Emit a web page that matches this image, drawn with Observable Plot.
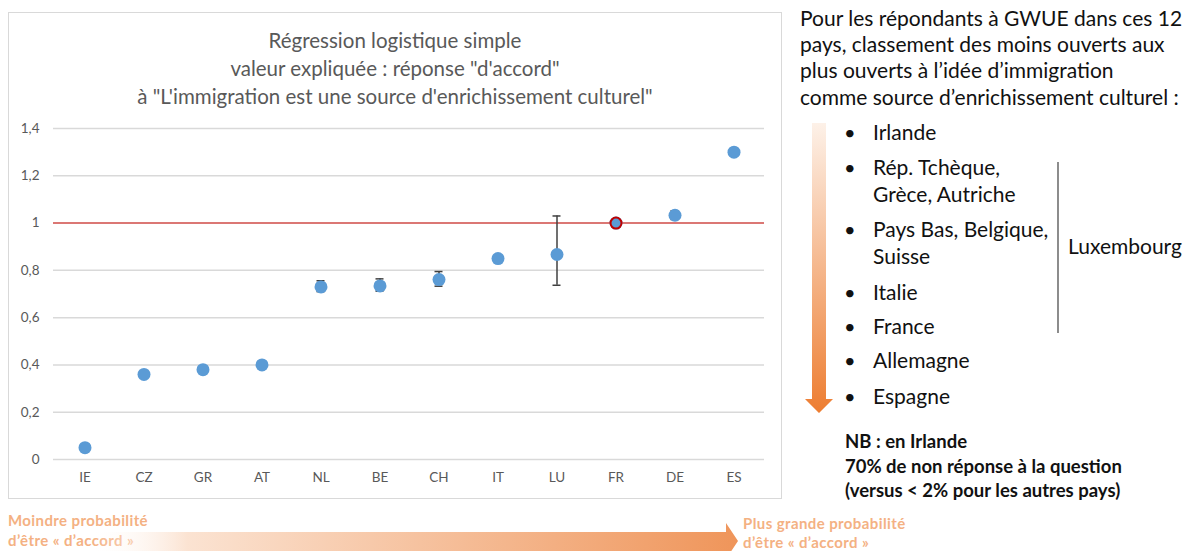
<!DOCTYPE html>
<html><head><meta charset="utf-8">
<script src="https://cdn.jsdelivr.net/npm/d3@7"></script>
<script src="https://cdn.jsdelivr.net/npm/@observablehq/plot@0.6"></script>
<style>
body{margin:0;background:#fff;width:1192px;height:551px;overflow:hidden;position:relative;font-family:Lato,"Open Sans",sans-serif}
.abs{position:absolute;white-space:nowrap}
</style></head><body>
<div class="abs" style="left:8px;top:12px;width:774px;height:487px;border:1.5px solid #d9d9d9;box-sizing:border-box"></div>
<div id="chart" class="abs" style="left:0;top:0"></div>
<div id="title" class="abs" style="left:8px;width:774px;top:26px;text-align:center;color:#595959;font-size:20.5px;line-height:28px"></div>
<div id="panel"></div>
<svg class="abs" style="left:0;top:0" width="1192" height="551" id="deco">
  <defs>
    <linearGradient id="gv" x1="0" y1="0" x2="0" y2="1">
      <stop offset="0" stop-color="#fdf1e8"/>
      <stop offset="1" stop-color="#ed7d31"/>
    </linearGradient>
    <linearGradient id="gh" x1="0" y1="0" x2="1" y2="0">
      <stop offset="0" stop-color="#ffffff" stop-opacity="0"/>
      <stop offset="0.15" stop-color="#fbe3d2"/>
      <stop offset="1" stop-color="#ef955a"/>
    </linearGradient>
  </defs>
  <path d="M812,123 H826 V399 H833 L819,413 L805,399 H812 Z" fill="url(#gv)"/>
  <path d="M90,532 H726 V523 L738,541 L726,559 V551 H90 Z" fill="url(#gh)"/>
  <line x1="1058" y1="162" x2="1058" y2="333" stroke="#404040" stroke-width="1.2"/>
</svg>
<script>
const countries = ["IE","CZ","GR","AT","NL","BE","CH","IT","LU","FR","DE","ES"];
const oddsRatio = [0.05,0.36,0.38,0.40,0.73,0.734,0.761,0.85,0.867,1.0,1.033,1.30];
const errLow  = [null,null,null,null,0.71,0.712,0.733,null,0.737,null,1.015,null];
const errHigh = [null,null,null,null,0.756,0.764,0.795,null,1.03,null,1.052,null];
const yTicks = [0,0.2,0.4,0.6,0.8,1,1.2,1.4];
const referenceValue = 1;
const referenceCountry = "FR";
const titleLines = ["Régression logistique simple","valeur expliquée : réponse \"d'accord\"","à \"L'immigration est une source d'enrichissement culturel\""];
const headingLines = ["Pour les répondants à GWUE dans ces 12","pays, classement des moins ouverts aux","plus ouverts à l’idée d’immigration","comme source d’enrichissement culturel :"];
const rankingItems = [["Irlande"],["Rép. Tchèque,","Grèce, Autriche"],["Pays Bas, Belgique,","Suisse"],["Italie"],["France"],["Allemagne"],["Espagne"]];
const bracketLabel = "Luxembourg";
const noteLines = ["NB : en Irlande","70% de non réponse à la question","(versus < 2% pour les autres pays)"];
const leftArrowLabel = ["Moindre probabilité","d’être « d’accord »"];
const rightArrowLabel = ["Plus grande probabilité","d’être « d’accord »"];

const rows = countries.map((c,i)=>({country:c, value:oddsRatio[i], lo:errLow[i], hi:errHigh[i]}));
const errRows = rows.filter(d=>d.lo!=null);

const chart = Plot.plot({
  width:790, height:500,
  marginTop:128, marginBottom:41, marginLeft:53, marginRight:26,
  style:{fontFamily:"Lato, sans-serif", fontSize:"13px", color:"#595959", background:"transparent"},
  x:{type:"band", domain:countries, padding:0, label:null},
  y:{domain:[0,1.4], label:null},
  marks:[
    Plot.gridY(yTicks,{stroke:"#d9d9d9", strokeOpacity:1, strokeWidth:1.5}),
    Plot.axisY(yTicks,{tickSize:0, tickPadding:14, tickFormat:d=>String(d).replace(".",","), label:null, fontSize:13.5}),
    Plot.axisX({tickSize:0, tickPadding:13, label:null, fontSize:13.5}),
    Plot.ruleY([referenceValue],{stroke:"#d9534f", strokeWidth:1.5}),
    Plot.ruleX(errRows,{x:"country", y1:"lo", y2:"hi", stroke:"#404040", strokeWidth:1.5}),
    Plot.tickY(errRows,{x:"country", y:"hi", stroke:"#404040", strokeWidth:1.5, insetLeft:25.5, insetRight:25.5}),
    Plot.tickY(errRows,{x:"country", y:"lo", stroke:"#404040", strokeWidth:1.5, insetLeft:25.5, insetRight:25.5}),
    Plot.dot(rows,{x:"country", y:"value", r:6.5, fill:"#5b9bd5"}),
    Plot.dot(rows.filter(d=>d.country===referenceCountry),{x:"country", y:"value", r:5.5, fill:"#5b9bd5", stroke:"#c00000", strokeWidth:2})
  ]
});
document.getElementById("chart").appendChild(chart);
document.getElementById("title").innerHTML = titleLines.map(t=>`<div>${t.replace(/</g,"&lt;")}</div>`).join("");

const panel = document.getElementById("panel");
function addText(txt, left, cy, size, opts={}){
  const d = document.createElement("div");
  d.className = "abs";
  d.textContent = txt;
  const lh = size*1.2;
  d.style.left = left+"px";
  d.style.top = (cy - lh/2)+"px";
  d.style.fontSize = size+"px";
  d.style.lineHeight = lh+"px";
  d.style.color = opts.color || "#111";
  if (opts.bold) d.style.fontWeight = "bold";
  if (opts.ls) d.style.letterSpacing = opts.ls+"px";
  panel.appendChild(d);
}
const headY = [18,44,70,97];
headingLines.forEach((t,i)=>addText(t,800,headY[i],21));
const itemY = [[132],[167,194],[229,256],[292],[326],[360],[396]];
rankingItems.forEach((lines,i)=>{
  addText("•",844,itemY[i][0],20);
  lines.forEach((t,j)=>addText(t,873,itemY[i][j],21));
});
addText(bracketLabel,1068,246,21);
const noteY = [441,466,490];
noteLines.forEach((t,i)=>addText(t,845,noteY[i],18.5,{bold:true}));
const arrowOpts = {bold:true,color:"#f4b183",ls:0.4};
addText(leftArrowLabel[0],8,520,15,arrowOpts);
addText(leftArrowLabel[1],8,540,15,arrowOpts);
addText(rightArrowLabel[0],743,523,15,arrowOpts);
addText(rightArrowLabel[1],743,542,15,arrowOpts);
</script>
</body></html>
